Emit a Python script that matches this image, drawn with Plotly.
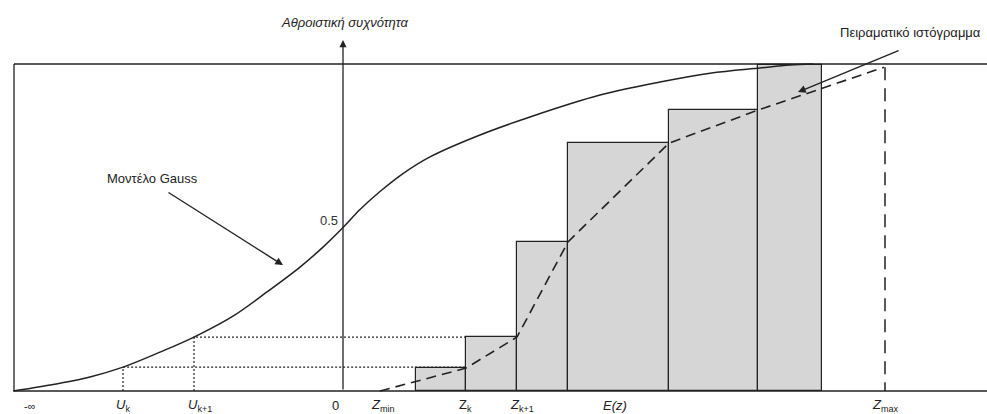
import plotly.graph_objects as go

# ---------------- data (z in arbitrary units, F = cumulative frequency) ----------------
# Gauss model (cumulative curve)
gauss_z = [-3.30, -2.83, -2.53, -2.20, -1.83, -1.49, -1.10, -0.76, -0.43, -0.20, 0.0,
           0.17, 0.37, 0.60, 0.87, 1.37, 1.87, 2.57, 3.17, 3.67, 4.17, 4.47, 4.70]
gauss_F = [0.0, 0.024, 0.043, 0.073, 0.119, 0.165, 0.229, 0.303, 0.379, 0.440, 0.50,
           0.555, 0.610, 0.665, 0.716, 0.783, 0.838, 0.905, 0.945, 0.972, 0.988, 0.997, 1.0]

# experimental cumulative histogram
bar_edges = [0.73, 1.23, 1.74, 2.25, 3.26, 4.15, 4.79]
bar_tops = [0.070, 0.165, 0.456, 0.758, 0.859, 0.997]

# cumulative polygon (dashed)
poly_z = [0.37, 1.23, 1.74, 2.25, 3.26, 4.15, 5.41]
poly_F = [0.0, 0.070, 0.165, 0.456, 0.758, 0.859, 0.99]

# reference points
U_k, U_k1 = -2.20, -1.49
F_Uk, F_Uk1 = 0.073, 0.165
Z_min, Z_k, Z_k1, E_z, Z_max = 0.40, 1.22, 1.79, 2.72, 5.42

tick_pos = [-3.13, U_k, -1.43, -0.08, Z_min, Z_k, Z_k1, E_z, Z_max]
tick_text = ["-∞", "<i>U</i><sub>k</sub>", "<i>U</i><sub>k+1</sub>", "0",
             "<i>Z</i><sub>min</sub>", "Z<sub>k</sub>", "<i>Z</i><sub>k+1</sub>",
             "<i>E(z)</i>", "<i>Z</i><sub>max</sub>"]

# ---------------- figure ----------------
INK = "#222222"
FONT = "Liberation Sans, Arial, sans-serif"
FS = 13
x_range = [-3.43, 6.44]
y_range = [-0.0703, 1.1957]
frame_left = -3.29

fig = go.Figure()

# dotted guide lines from U_k and U_k+1
fig.add_trace(go.Scatter(x=[U_k, U_k, bar_edges[1]], y=[0, F_Uk, F_Uk], mode="lines",
                         line=dict(color=INK, width=1.2, dash="2px,2px"), hoverinfo="skip"))
fig.add_trace(go.Scatter(x=[U_k1, U_k1, bar_edges[1]], y=[0, F_Uk1, F_Uk1], mode="lines",
                         line=dict(color=INK, width=1.2, dash="2px,2px"), hoverinfo="skip"))

# histogram bars
centers = [(a + b) / 2 for a, b in zip(bar_edges[:-1], bar_edges[1:])]
widths = [b - a for a, b in zip(bar_edges[:-1], bar_edges[1:])]
fig.add_trace(go.Bar(x=centers, y=bar_tops, width=widths,
                     marker=dict(color="#d6d6d6", line=dict(color=INK, width=1.2)),
                     hoverinfo="skip"))

# Gauss curve
fig.add_trace(go.Scatter(x=gauss_z, y=gauss_F, mode="lines", line_shape="spline",
                         line=dict(color=INK, width=1.5), hoverinfo="skip"))

# dashed cumulative polygon
fig.add_trace(go.Scatter(x=poly_z, y=poly_F, mode="lines",
                         line=dict(color=INK, width=1.6, dash="10px,6px"), hoverinfo="skip"))
# Z_max vertical dashed line
fig.add_trace(go.Scatter(x=[Z_max, Z_max], y=[poly_F[-1], 0], mode="lines",
                         line=dict(color=INK, width=1.5, dash="13px,8px"), hoverinfo="skip"))

# frame lines
fig.add_shape(type="line", x0=frame_left, x1=frame_left, y0=0, y1=1, line=dict(color=INK, width=1.3))
fig.add_shape(type="line", x0=frame_left, x1=x_range[1], y0=1, y1=1, line=dict(color=INK, width=1.3))
fig.add_shape(type="line", x0=frame_left, x1=x_range[1], y0=0, y1=0, line=dict(color=INK, width=1.6))

# y-axis with arrow
fig.add_annotation(x=0, y=1.073, ax=0, ay=0, axref="x", ayref="y", xref="x", yref="y",
                   text="", showarrow=True, arrowhead=2, arrowsize=1.1, arrowwidth=1.3,
                   arrowcolor=INK)

# arrows for labels
fig.add_annotation(x=-0.60, y=0.385, ax=-1.76, ay=0.61, axref="x", ayref="y",
                   text="", showarrow=True, arrowhead=2, arrowsize=1.1, arrowwidth=1.4,
                   arrowcolor=INK)
fig.add_annotation(x=4.55, y=0.914, ax=5.57, ay=1.043, axref="x", ayref="y",
                   text="", showarrow=True, arrowhead=2, arrowsize=1.1, arrowwidth=1.4,
                   arrowcolor=INK)

# texts
fig.add_annotation(x=0.01, y=1.128, text="<i>Αθροιστική συχνότητα</i>", showarrow=False,
                   font=dict(family=FONT, size=FS, color=INK))
fig.add_annotation(x=5.67, y=1.095, text="Πειραματικό ιστόγραμμα", showarrow=False,
                   font=dict(family=FONT, size=FS, color=INK))
fig.add_annotation(x=-1.91, y=0.651, text="Μοντέλο Gauss", showarrow=False,
                   font=dict(family=FONT, size=FS, color=INK))
fig.add_annotation(x=-0.03, y=0.52, text="0.5", showarrow=False, xanchor="right",
                   font=dict(family=FONT, size=FS, color="#333333"))

for xp, t in zip(tick_pos, tick_text):
    fig.add_annotation(x=xp, y=-0.045, text=t, showarrow=False,
                       font=dict(family=FONT, size=FS if t != "-∞" else 11, color=INK))

fig.update_layout(
    width=987, height=414, margin=dict(l=0, r=0, t=0, b=0),
    paper_bgcolor="white", plot_bgcolor="white", showlegend=False,
    xaxis=dict(range=x_range, visible=False, fixedrange=True),
    yaxis=dict(range=y_range, visible=False, fixedrange=True),
    bargap=0,
)

fig.write_html("out.html")
